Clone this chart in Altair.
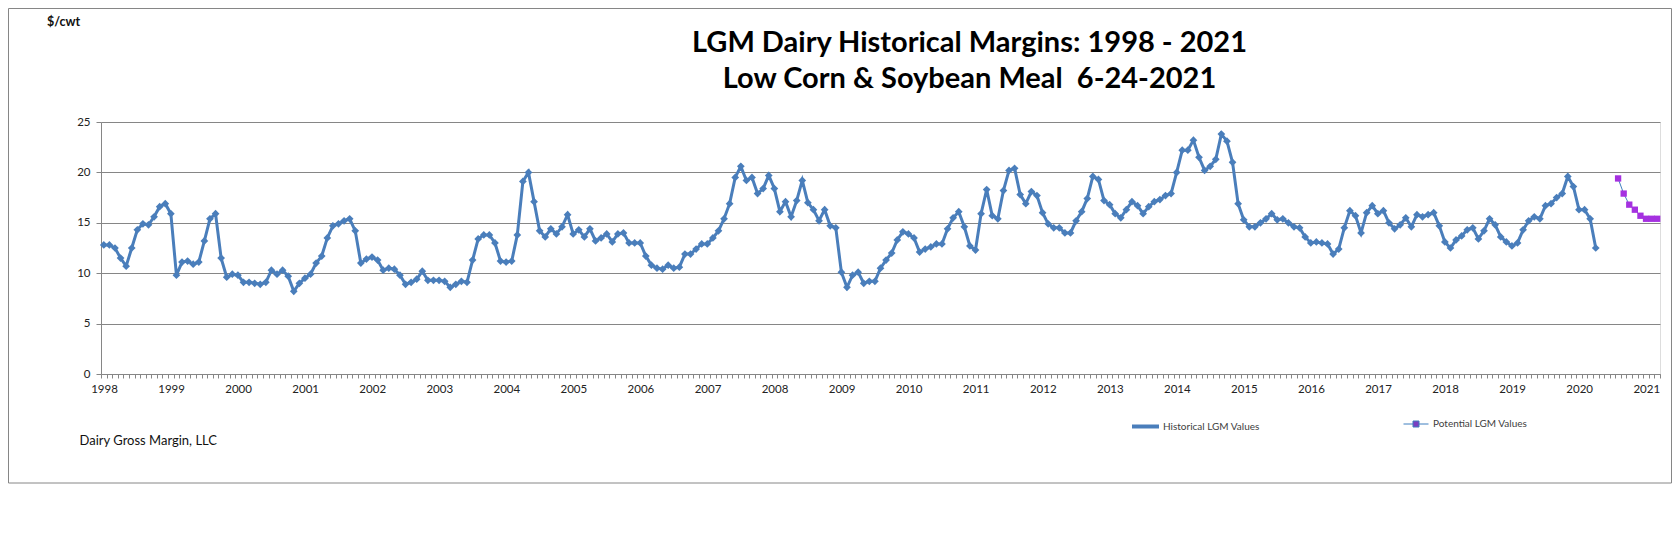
import altair as alt
import pandas as pd

# ---------------- data ----------------
first_month = "1998-01"          # first category on the axis
last_month = "2021-03"           # last category on the axis
series_names = ["Historical LGM Values", "Potential LGM Values"]

hist_start = "1998-01"
hist_1998 = [12.8, 12.8, 12.5, 11.5, 10.7, 12.5, 14.3, 14.9, 14.8, 15.6, 16.6, 16.9]
hist_1999 = [15.9, 9.8, 11.1, 11.2, 10.9, 11.1, 13.2, 15.4, 15.9, 11.5, 9.6, 9.9]
hist_2000 = [9.8, 9.1, 9.1, 9.0, 8.9, 9.1, 10.3, 9.9, 10.3, 9.7, 8.2, 9.0]
hist_2001 = [9.5, 9.9, 11.0, 11.7, 13.5, 14.7, 14.9, 15.2, 15.4, 14.2, 11.0, 11.4]
hist_2002 = [11.6, 11.3, 10.3, 10.5, 10.4, 9.8, 8.9, 9.1, 9.4, 10.2, 9.3, 9.3]
hist_2003 = [9.3, 9.2, 8.6, 8.9, 9.2, 9.1, 11.3, 13.4, 13.8, 13.8, 13.0, 11.2]
hist_2004 = [11.1, 11.2, 13.8, 19.1, 20.0, 17.1, 14.2, 13.6, 14.4, 13.9, 14.6, 15.8]
hist_2005 = [13.9, 14.3, 13.6, 14.4, 13.2, 13.5, 13.9, 13.1, 13.9, 14.0, 13.0, 13.0]
hist_2006 = [13.0, 11.7, 10.8, 10.5, 10.4, 10.8, 10.5, 10.6, 11.9, 11.9, 12.4, 12.9]
hist_2007 = [12.9, 13.5, 14.2, 15.4, 16.9, 19.5, 20.6, 19.2, 19.5, 17.9, 18.4, 19.7]
hist_2008 = [18.4, 16.1, 17.1, 15.6, 17.2, 19.2, 17.0, 16.3, 15.2, 16.3, 14.7, 14.5]
hist_2009 = [10.1, 8.6, 9.8, 10.1, 9.0, 9.2, 9.2, 10.5, 11.3, 12.0, 13.3, 14.1]
hist_2010 = [13.9, 13.5, 12.1, 12.4, 12.6, 12.9, 12.9, 14.4, 15.5, 16.1, 14.6, 12.7]
hist_2011 = [12.3, 15.9, 18.3, 15.7, 15.4, 18.2, 20.2, 20.4, 17.8, 16.9, 18.1, 17.7]
hist_2012 = [16.0, 14.9, 14.5, 14.5, 14.0, 14.0, 15.2, 16.1, 17.4, 19.6, 19.3, 17.2]
hist_2013 = [16.8, 15.9, 15.5, 16.3, 17.1, 16.7, 15.9, 16.6, 17.1, 17.3, 17.7, 17.9]
hist_2014 = [20.0, 22.2, 22.2, 23.2, 21.5, 20.2, 20.6, 21.3, 23.8, 23.1, 21.0, 16.9]
hist_2015 = [15.3, 14.6, 14.6, 15.0, 15.4, 15.9, 15.3, 15.4, 15.0, 14.6, 14.5, 13.6]
hist_2016 = [13.0, 13.1, 13.0, 12.9, 11.9, 12.4, 14.5, 16.2, 15.7, 14.0, 16.0, 16.7]
hist_2017 = [15.9, 16.2, 15.0, 14.4, 14.8, 15.5, 14.6, 15.8, 15.6, 15.8, 16.0, 14.7]
hist_2018 = [13.1, 12.5, 13.3, 13.7, 14.3, 14.5, 13.4, 14.2, 15.4, 14.8, 13.6, 13.1]
hist_2019 = [12.7, 13.0, 14.3, 15.2, 15.6, 15.4, 16.7, 16.9, 17.5, 17.9, 19.6, 18.6]
hist_2020 = [16.3, 16.3, 15.4, 12.5]

potential_start = "2020-08"
potential_values = [19.4, 17.9, 16.8, 16.3, 15.7, 15.4, 15.4, 15.4]

y_ticks = [0, 5, 10, 15, 20, 25]
title_lines = ["LGM Dairy Historical Margins: 1998 - 2021",
               "Low Corn & Soybean Meal\u00a0 6-24-2021"]
y_unit_label = "$/cwt"
source_label = "Dairy Gross Margin, LLC"

historical_values = (hist_1998 + hist_1999 + hist_2000 + hist_2001 + hist_2002 + hist_2003
                     + hist_2004 + hist_2005 + hist_2006 + hist_2007 + hist_2008 + hist_2009
                     + hist_2010 + hist_2011 + hist_2012 + hist_2013 + hist_2014 + hist_2015
                     + hist_2016 + hist_2017 + hist_2018 + hist_2019 + hist_2020)

# ---------------- build tables ----------------
base_period = pd.Period(first_month, freq="M")
n_categories = (pd.Period(last_month, freq="M") - base_period).n + 1
first_year = base_period.year


def frame(start, values, name):
    off = (pd.Period(start, freq="M") - base_period).n
    return pd.DataFrame({
        "pos": [off + k + 0.5 for k in range(len(values))],
        "value": values,
        "series": name,
    })


hist_df = frame(hist_start, historical_values, series_names[0])
pot_df = frame(potential_start, potential_values, series_names[1])

# ---------------- style ----------------
FONT = "Lato"
GRID = "#868686"
BLUE = "#4A7EBB"
PURPLE = "#A531E0"
PLINE = "#3F7FBF"

PLOT_W, PLOT_H = 1559, 252

x_enc = alt.X(
    "pos:Q",
    scale=alt.Scale(domain=[0, n_categories], nice=False, zero=False),
    axis=alt.Axis(
        values=list(range(0, n_categories + 1)),
        labelExpr=(f"datum.value % 12 === 0 && datum.value < {n_categories} ? "
                   f"'' + ({first_year} + datum.value / 12) : ''"),
        labelOverlap=False, labelFlush=False, labelBound=False,
        labelOffset=3, labelPadding=5,
        labelFont=FONT, labelFontSize=11.5, labelColor="#222222",
        tickSize=4, tickColor=GRID, domainColor=GRID, grid=False,
        title=source_label, titleX=-22, titleY=66, titleAlign="left",
        titleBaseline="middle", titleFont=FONT, titleFontSize=13,
        titleFontWeight="normal", titleColor="#111111",
    ),
)
y_enc = alt.Y(
    "value:Q",
    scale=alt.Scale(domain=[0, 25], nice=False),
    axis=alt.Axis(
        values=y_ticks, grid=True, gridColor=GRID, gridWidth=1,
        tickSize=5, tickColor=GRID, domainColor=GRID,
        labelFont=FONT, labelFontSize=11.5, labelColor="#222222", labelPadding=6,
        title=y_unit_label, titleAngle=0, titleX=-38, titleY=-101,
        titleAlign="center", titleBaseline="middle", titleFont=FONT,
        titleFontSize=12.5, titleFontWeight="bold", titleColor="#111111",
    ),
)

hist_line = alt.Chart(hist_df).mark_line(strokeWidth=3).encode(
    x=x_enc, y=y_enc,
    color=alt.Color("series:N",
                    scale=alt.Scale(domain=[series_names[0]], range=[BLUE]),
                    legend=alt.Legend(title=None, orient="none", legendX=1029, legendY=289,
                                      symbolType="M-1,0H1", symbolSize=729,
                                      symbolStrokeWidth=4, labelFont=FONT,
                                      labelFontSize=10, labelColor="#404040",
                                      labelOffset=2, padding=0)),
)
hist_pts = alt.Chart(hist_df).mark_point(shape="diamond", filled=True, size=60,
                                         color=BLUE, opacity=1).encode(x=x_enc, y=y_enc)

pot_line = alt.Chart(pot_df).mark_line(strokeWidth=1).encode(
    x=x_enc, y=y_enc,
    color=alt.Color("series:N",
                    scale=alt.Scale(domain=[series_names[1]], range=[PLINE]),
                    legend=alt.Legend(title=None, orient="none", legendX=1302, legendY=289,
                                      symbolType="M-1,0H-0.24M0.24,0H1M-0.24,-0.24H0.24V0.24H-0.24Z",
                                      symbolSize=625, symbolStrokeWidth=1,
                                      symbolFillColor="#7B3FC0",
                                      labelFont=FONT, labelFontSize=10,
                                      labelColor="#404040", labelOffset=4, padding=0)),
)
pot_pts = alt.Chart(pot_df).mark_square(size=40, color=PURPLE, opacity=1).encode(x=x_enc, y=y_enc)

border = alt.Chart(pd.DataFrame({"k": [0]})).mark_rect(
    filled=False, stroke=GRID, strokeWidth=1
).encode(x=alt.value(-92.5), x2=alt.value(1570.5), y=alt.value(-113.5), y2=alt.value(361))

chart = alt.layer(border, hist_line, hist_pts, pot_line, pot_pts).resolve_scale(
    color="independent"
).properties(
    width=PLOT_W, height=PLOT_H,
    padding={"left": 93, "top": 114, "right": 12, "bottom": 120},
    autosize=alt.AutoSizeParams(type="none"),
    title=alt.TitleParams(text=title_lines, font=FONT, fontSize=29, fontWeight="bold",
                          color="#000000", anchor="middle", frame="group", dx=89,
                          dy=90, lineHeight=36, offset=4),
).configure_view(stroke=None).configure(background="white")

chart.save("out.html", embed_options={"renderer": "svg", "actions": False})
